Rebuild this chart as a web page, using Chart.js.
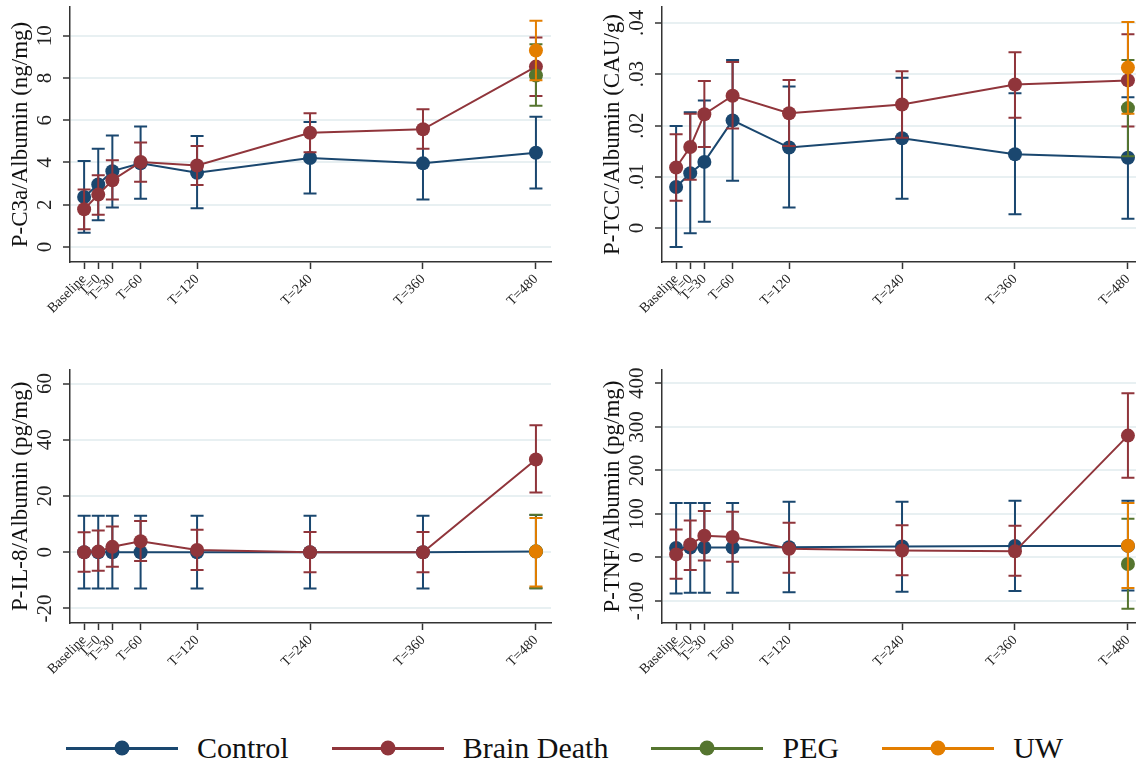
<!DOCTYPE html>
<html>
<head>
<meta charset="utf-8">
<script src="https://cdn.jsdelivr.net/npm/chart.js@4.4.1/dist/chart.umd.min.js"></script>
<style>
  html, body { margin: 0; padding: 0; background: #fff; }
  body { width: 1136px; height: 762px; overflow: hidden; position: relative; font-family: "Liberation Serif", serif; }
  .panel { position: absolute; }
  .legend { position: absolute; left: 66px; top: 731px; height: 34px; display: flex; align-items: center; font-size: 30px; color: #111; }
  .item { display: flex; align-items: center; margin-right: 43px; white-space: nowrap; }
  .key { position: relative; width: 112px; height: 3px; background: var(--c); margin-right: 19px; }
  .key::after { content: ''; position: absolute; left: 50%; top: 50%; width: 15px; height: 15px; border-radius: 50%; background: var(--c); transform: translate(-50%, -50%); }
</style>
</head>
<body>
<canvas class="panel" id="c3aChart" width="560" height="330" style="left:0;top:0"></canvas>
<canvas class="panel" id="tccChart" width="560" height="330" style="left:592px;top:0"></canvas>
<canvas class="panel" id="il8Chart" width="560" height="330" style="left:0;top:360px"></canvas>
<canvas class="panel" id="tnfChart" width="560" height="330" style="left:592px;top:360px"></canvas>

<div class="legend">
  <div class="item"><span class="key" style="--c:#1a476f"></span>Control</div>
  <div class="item"><span class="key" style="--c:#90353b"></span>Brain Death</div>
  <div class="item"><span class="key" style="--c:#55752f"></span>PEG</div>
  <div class="item"><span class="key" style="--c:#e37e00"></span>UW</div>
</div>

<script>
// time points (minutes) and their labels
const timeVals = [0, 15, 30, 60, 120, 240, 360, 480];
const timeLabels = ['Baseline', 'T=0', 'T=30', 'T=60', 'T=120', 'T=240', 'T=360', 'T=480'];
const endTime = [480];

// P-C3a/Albumin
const c3aControl   = [2.37, 2.96, 3.59, 3.96, 3.51, 4.21, 3.96, 4.46];
const c3aControlLo = [0.68, 1.27, 1.87, 2.28, 1.84, 2.53, 2.25, 2.77];
const c3aControlHi = [4.07, 4.65, 5.28, 5.70, 5.25, 5.92, 5.65, 6.17];
const c3aBD   = [1.79, 2.48, 3.16, 4.02, 3.86, 5.41, 5.57, 8.54];
const c3aBDLo = [0.84, 1.53, 2.25, 3.09, 2.93, 4.49, 4.65, 7.15];
const c3aBDHi = [2.72, 3.40, 4.11, 4.95, 4.78, 6.33, 6.52, 9.92];
const c3aPEG = [8.12], c3aPEGLo = [6.68], c3aPEGHi = [9.60];
const c3aUW = [9.30], c3aUWLo = [7.89], c3aUWHi = [10.71];
const c3aTicks = [0, 2, 4, 6, 8, 10];

// P-TCC/Albumin
const tccControl   = [0.0080, 0.0107, 0.0129, 0.0210, 0.0157, 0.0175, 0.0144, 0.0137];
const tccControlLo = [-0.0037, -0.0010, 0.0012, 0.0092, 0.0040, 0.0057, 0.0027, 0.0018];
const tccControlHi = [0.0199, 0.0226, 0.0249, 0.0328, 0.0276, 0.0293, 0.0263, 0.0255];
const tccBD   = [0.0118, 0.0158, 0.0222, 0.0258, 0.0224, 0.0241, 0.0280, 0.0288];
const tccBDLo = [0.0053, 0.0094, 0.0158, 0.0194, 0.0160, 0.0176, 0.0215, 0.0198];
const tccBDHi = [0.0183, 0.0223, 0.0287, 0.0324, 0.0289, 0.0306, 0.0343, 0.0378];
const tccPEG = [0.0234], tccPEGLo = [0.0140], tccPEGHi = [0.0328];
const tccUW = [0.0313], tccUWLo = [0.0223], tccUWHi = [0.0402];
const tccTicks = [0, 0.01, 0.02, 0.03, 0.04];

// P-IL-8/Albumin
const il8Control   = [0, 0, 0, 0, 0, 0, 0, 0.2];
const il8ControlLo = [-12.9, -12.9, -12.9, -12.9, -12.9, -12.9, -12.9, -12.8];
const il8ControlHi = [13.0, 13.0, 13.0, 13.0, 13.0, 13.0, 13.0, 13.2];
const il8BD   = [0.0, 0.2, 1.9, 3.9, 0.8, 0.0, 0.0, 33.0];
const il8BDLo = [-7.0, -6.6, -5.2, -3.1, -6.3, -7.1, -7.1, 21.2];
const il8BDHi = [7.1, 7.7, 9.1, 11.1, 8.0, 7.2, 7.2, 45.2];
const il8PEG = [0.3], il8PEGLo = [-12.8], il8PEGHi = [13.3];
const il8UW = [0.2], il8UWLo = [-12.2], il8UWHi = [12.2];
const il8Ticks = [-20, 0, 20, 40, 60];

// P-TNF/Albumin
const tnfControl   = [22, 23, 23, 23, 23.5, 25, 26.5, 26.5];
const tnfControlLo = [-83, -81, -81, -81, -80, -79, -77, -76];
const tnfControlHi = [125, 125, 125, 125, 128, 128, 130, 130];
const tnfBD   = [7, 30, 50, 47, 20, 16, 14, 280];
const tnfBDLo = [-49, -29, -7, -10, -35, -41, -42, 183];
const tnfBDHi = [64, 85, 107, 105, 80, 74, 73, 377];
const tnfPEG = [-15], tnfPEGLo = [-118], tnfPEGHi = [89];
const tnfUW = [27], tnfUWLo = [-70], tnfUWHi = [125];
const tnfTicks = [-100, 0, 100, 200, 300, 400];

const colors = { control: '#1a476f', bd: '#90353b', peg: '#55752f', uw: '#e37e00' };
const serif = '"Liberation Serif", "Times New Roman", serif';

// error bars (rcap) drawn under each dataset
const errorBars = {
  id: 'errorBars',
  beforeDatasetDraw(chart, args) {
    const ds = chart.data.datasets[args.index];
    if (!ds.lo) return;
    const { ctx, scales: { x, y } } = chart;
    ctx.save();
    ctx.strokeStyle = ds.borderColor;
    ctx.lineWidth = 2;
    ds.data.forEach((p, i) => {
      const px = x.getPixelForValue(p.x);
      const yl = y.getPixelForValue(ds.lo[i]);
      const yh = y.getPixelForValue(ds.hi[i]);
      ctx.beginPath();
      ctx.moveTo(px, yl); ctx.lineTo(px, yh);
      ctx.moveTo(px - 6.5, yl); ctx.lineTo(px + 6.5, yl);
      ctx.moveTo(px - 6.5, yh); ctx.lineTo(px + 6.5, yh);
      ctx.stroke();
    });
    ctx.restore();
  }
};

function pts(xs, ys) {
  return xs.map((v, i) => ({ x: v, y: ys[i] }));
}

function series(label, color, xs, ys, lo, hi, order) {
  return {
    label, data: pts(xs, ys), lo, hi, order,
    borderColor: color, backgroundColor: color,
    borderWidth: 2, pointRadius: 7, pointBorderWidth: 0, pointHoverRadius: 7,
    showLine: true, tension: 0
  };
}

// centre the rotated y labels 25px left of the axis
const measure = document.createElement('canvas').getContext('2d');
function yPad(labels) {
  measure.font = '21px ' + serif;
  const widest = Math.max(...labels.map(t => measure.measureText(t).width));
  return 25 - 7 - widest / 2;
}

function makeChart(id, opt) {
  const yLabels = opt.ticks.map(opt.fmt);
  new Chart(document.getElementById(id), {
    type: 'scatter',
    data: {
      datasets: [
        series('Control', colors.control, timeVals, opt.control, opt.controlLo, opt.controlHi, 4),
        series('Brain Death', colors.bd, timeVals, opt.bd, opt.bdLo, opt.bdHi, 3),
        series('PEG', colors.peg, endTime, opt.peg, opt.pegLo, opt.pegHi, 2),
        series('UW', colors.uw, endTime, opt.uw, opt.uwLo, opt.uwHi, 1)
      ]
    },
    options: {
      responsive: false,
      animation: false,
      events: [],
      layout: { padding: { top: opt.top, right: 9, left: 0, bottom: 0 } },
      plugins: { legend: { display: false }, tooltip: { enabled: false } },
      scales: {
        x: {
          type: 'linear', min: -15, max: 496,
          afterBuildTicks: s => { s.ticks = timeVals.map(v => ({ value: v })); },
          afterFit: s => { s.height = opt.xHeight; s.paddingLeft = 0; s.paddingRight = 0; },
          ticks: {
            autoSkip: false, minRotation: 45, maxRotation: 45, padding: 2,
            color: '#222', font: { family: serif, size: 14 },
            callback: v => timeLabels[timeVals.indexOf(v)]
          },
          grid: { drawOnChartArea: false, drawTicks: true, tickLength: 7, tickColor: '#333', tickWidth: 1.5 },
          border: { color: '#333', width: 1.5 }
        },
        y: {
          type: 'linear', min: opt.min, max: opt.max,
          afterBuildTicks: s => { s.ticks = opt.ticks.map(v => ({ value: v })); },
          afterFit: s => { s.width = 70; s.paddingTop = 0; s.paddingBottom = 0; },
          ticks: {
            minRotation: 90, maxRotation: 90, crossAlign: 'center', padding: yPad(yLabels),
            color: '#222', font: { family: serif, size: 21 },
            callback: v => opt.fmt(v)
          },
          grid: { color: '#e8f0f2', lineWidth: 2, tickLength: 7, tickColor: '#333', tickWidth: 1.5 },
          border: { color: '#333', width: 1.5 },
          title: { display: true, text: opt.title, color: '#111', font: { family: serif, size: 23 }, padding: { top: 7, bottom: 0 } }
        }
      }
    },
    plugins: [errorBars]
  });
}

const intFmt = v => String(Math.round(v));
const decFmt = v => v === 0 ? '0' : v.toFixed(2).replace(/^0/, '');

makeChart('c3aChart', {
  title: 'P-C3a/Albumin (ng/mg)', min: -0.71, max: 11.36, ticks: c3aTicks, fmt: intFmt, top: 7, xHeight: 68,
  control: c3aControl, controlLo: c3aControlLo, controlHi: c3aControlHi,
  bd: c3aBD, bdLo: c3aBDLo, bdHi: c3aBDHi,
  peg: c3aPEG, pegLo: c3aPEGLo, pegHi: c3aPEGHi,
  uw: c3aUW, uwLo: c3aUWLo, uwHi: c3aUWHi
});

makeChart('tccChart', {
  title: 'P-TCC/Albumin (CAU/g)', min: -0.00663, max: 0.04312, ticks: tccTicks, fmt: decFmt, top: 7, xHeight: 68,
  control: tccControl, controlLo: tccControlLo, controlHi: tccControlHi,
  bd: tccBD, bdLo: tccBDLo, bdHi: tccBDHi,
  peg: tccPEG, pegLo: tccPEGLo, pegHi: tccPEGHi,
  uw: tccUW, uwLo: tccUWLo, uwHi: tccUWHi
});

makeChart('il8Chart', {
  title: 'P-IL-8/Albumin (pg/mg)', min: -25.2, max: 65.0, ticks: il8Ticks, fmt: intFmt, top: 9.5, xHeight: 67,
  control: il8Control, controlLo: il8ControlLo, controlHi: il8ControlHi,
  bd: il8BD, bdLo: il8BDLo, bdHi: il8BDHi,
  peg: il8PEG, pegLo: il8PEGLo, pegHi: il8PEGHi,
  uw: il8UW, uwLo: il8UWLo, uwHi: il8UWHi
});

makeChart('tnfChart', {
  title: 'P-TNF/Albumin (pg/mg)', min: -150.6, max: 430.7, ticks: tnfTicks, fmt: intFmt, top: 10, xHeight: 67,
  control: tnfControl, controlLo: tnfControlLo, controlHi: tnfControlHi,
  bd: tnfBD, bdLo: tnfBDLo, bdHi: tnfBDHi,
  peg: tnfPEG, pegLo: tnfPEGLo, pegHi: tnfPEGHi,
  uw: tnfUW, uwLo: tnfUWLo, uwHi: tnfUWHi
});
</script>
</body>
</html>
